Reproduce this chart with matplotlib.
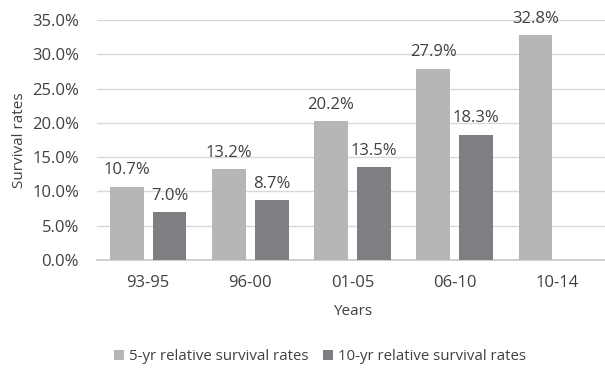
import numpy as np
import matplotlib
matplotlib.use("Agg")
from matplotlib import pyplot as plt
from matplotlib.ticker import PercentFormatter

plt.rcParams['font.family'] = ['Open Sans', 'DejaVu Sans']

years = ["93-95", "96-00", "01-05", "06-10", "10-14"]
rate_5yr = [10.7, 13.2, 20.2, 27.9, 32.8]
rate_10yr = [7.0, 8.7, 13.5, 18.3, np.nan]

c_light = "#b5b6b8"
c_dark = "#7e7f83"
txt = "#404040"

fig = plt.figure(figsize=(6.05, 3.73), dpi=100)
ax = fig.add_axes([97 / 605, 1 - 260 / 373, 511 / 605, 240 / 373])

x = np.arange(len(years))
w = 0.33
b1 = ax.bar(x - 0.21, rate_5yr, w, color=c_light, label="5-yr relative survival rates", zorder=3)
b2 = ax.bar(x + 0.21, rate_10yr, w, color=c_dark, label="10-yr relative survival rates", zorder=3)

# value labels above bars
for bars, vals in [(b1, rate_5yr), (b2, rate_10yr)]:
    for rect, v in zip(bars, vals):
        if np.isnan(v):
            continue
        ax.annotate("%.1f%%" % v, (rect.get_x() + rect.get_width() / 2, v),
                    xytext=(0, 9), textcoords="offset points",
                    ha="center", va="baseline", fontsize=12, color=txt)

ax.set_xlim(-0.5, 4.5)
ax.set_ylim(0, 35)
ax.set_yticks(np.arange(0, 36, 5))
ax.yaxis.set_major_formatter(PercentFormatter(decimals=1))
ax.set_xticks(x)
ax.set_xticklabels(years)
ax.grid(axis="y", color="#d9d9d9", linewidth=1, zorder=0)
for s in ["top", "right", "left"]:
    ax.spines[s].set_visible(False)
ax.spines["bottom"].set_color("#c8c8c8")
ax.spines["bottom"].set_linewidth(1.2)
ax.tick_params(length=0, labelsize=12, labelcolor=txt)
ax.tick_params(axis="x", pad=11)
ax.tick_params(axis="y", pad=13)
ax.set_xlabel("Years", fontsize=11, color=txt, labelpad=9)
ax.set_ylabel("Survival rates", fontsize=11, color=txt)
ax.yaxis.set_label_coords((27 - 97) / 511, 0.5)

fig.legend(handles=[b1, b2], loc="center", bbox_to_anchor=(320 / 605, 1 - 357 / 373),
           ncol=2, frameon=False, fontsize=10.8, labelcolor=txt,
           handlelength=0.65, handleheight=0.65, handletextpad=0.35, columnspacing=1.0)

fig.savefig("out.png", dpi=100)
